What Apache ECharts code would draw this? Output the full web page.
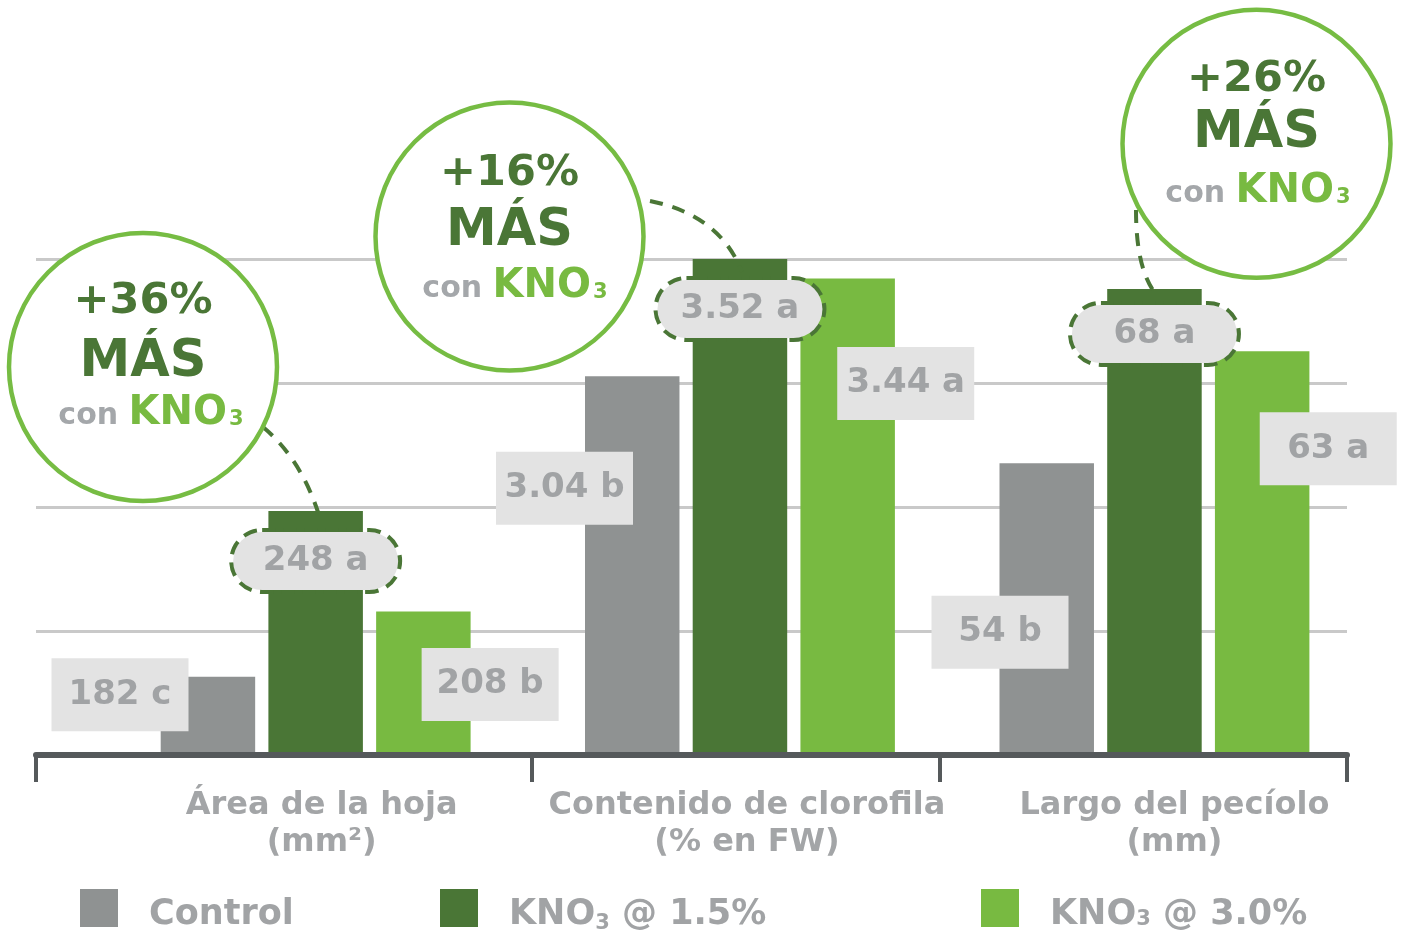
<!DOCTYPE html>
<html><head><meta charset="utf-8">
<script src="https://cdn.jsdelivr.net/npm/echarts@6/dist/echarts.min.js"></script>
<style>html,body{margin:0;padding:0;background:#fff}#c{width:1403px;height:938px}</style>
</head><body><div id="c"></div>
<script>
// ---- data ----
const categories = ['Área de la hoja\n(mm²)', 'Contenido de clorofila\n(% en FW)', 'Largo del pecíolo\n(mm)'];
const seriesNames = ['Control', 'KNO3 @ 1.5%', 'KNO3 @ 3.0%'];
const controlValues = [182, 3.04, 54];
const kno15Values = [248, 3.52, 68];
const kno30Values = [208, 3.44, 63];
const controlLetters = ['c', 'b', 'b'];
const kno15Letters = ['a', 'a', 'a'];
const kno30Letters = ['b', 'a', 'a'];
// per-group value-axis ranges (each group has its own unit)
const axisMin = [152, 1.5, 30.8];
const axisMax = [348.4, 3.52, 70.4];

// ---- layout / style ----
const FONT = 'DejaVu Sans';
const colors = ['#8f9292', '#4a7636', '#78ba41'];
const labelGray = '#a1a3a5';
const frameLeft = [36, 532, 940], frameWidth = [496, 408, 407];
const barGridLeft = [160.7, 585, 999.5];
const catShift = [6, 7, 20];
const labelOffsets = [
  [[-40.7, 18], [-20.5, 112], [0.5, 169]],
  [[47.25, 50], [47.25, 50], [47.25, 45]],
  [[114, 73], [105.3, 105], [113.3, 97.6]]
];
const circles = [
  {cx: 143, cy: 367, t1: 302, t2: 363, t3: 414, x3: 151},
  {cx: 509.5, cy: 236.5, t1: 174, t2: 232, t3: 287, x3: 515},
  {cx: 1256.5, cy: 143.8, t1: 80, t2: 134, t3: 192, x3: 1258}
];
const connectors = [
  {x1: 263, y1: 427, cpx1: 300, cpy1: 458, x2: 318, y2: 512},
  {x1: 650, y1: 201, cpx1: 720, cpy1: 215, x2: 742, y2: 272},
  {x1: 1136, y1: 210, cpx1: 1136, cpy1: 268, x2: 1155, y2: 293}
];

const values = [controlValues, kno15Values, kno30Values];
const letters = [controlLetters, kno15Letters, kno30Letters];

const grid = [], xAxis = [], yAxis = [], series = [];
for (let i = 0; i < 3; i++) {
  grid.push({left: frameLeft[i], width: frameWidth[i], top: 259, height: 496});
  xAxis.push({gridIndex: i, type: 'category', data: [''], boundaryGap: true, z: 5,
    axisLine: {lineStyle: {color: '#55595b', width: 6}},
    axisTick: {show: true, length: 27, lineStyle: {color: '#55595b', width: 4}},
    axisLabel: {show: false}});
  yAxis.push({gridIndex: i, type: 'value', min: 0, max: 4, interval: 1,
    axisLine: {show: false}, axisTick: {show: false}, axisLabel: {show: false},
    splitLine: {lineStyle: {color: '#c9c9c9', width: 3}}});
}
for (let g = 0; g < 3; g++) {
  const gi = 3 + g;
  grid.push({left: barGridLeft[g], width: 309.9, top: 259, height: 493});
  xAxis.push({gridIndex: gi, type: 'category', data: [categories[g]],
    axisLine: {show: false}, axisTick: {show: false},
    axisLabel: {margin: 35, fontSize: 32, fontWeight: 'bold', fontFamily: FONT,
      color: '#a3a5a7', lineHeight: 37, padding: [0, 0, 0, catShift[g] * 2]}});
  yAxis.push({gridIndex: gi, type: 'value', min: axisMin[g], max: axisMax[g], show: false});
  for (let t = 0; t < 3; t++) {
    const dashed = t === 1;
    const lbl = {show: true, align: 'center', verticalAlign: 'middle',
      formatter: values[t][g] + ' ' + letters[t][g],
      color: labelGray, fontFamily: FONT, fontWeight: 'bold', fontSize: 34,
      backgroundColor: '#e3e3e3'};
    if (dashed) {
      Object.assign(lbl, {width: 165, height: 58, lineHeight: 58, borderRadius: 29,
        borderColor: '#4a7636', borderWidth: 4, borderType: [13, 8]});
    } else {
      Object.assign(lbl, {width: 137, height: 73, lineHeight: 73});
    }
    series.push({type: 'bar', name: seriesNames[t], xAxisIndex: gi, yAxisIndex: gi,
      barWidth: 94.5, barGap: '14%', itemStyle: {color: colors[t]},
      label: lbl, labelLayout: {hideOverlap: false},
      data: [{value: values[t][g], label: {position: labelOffsets[t][g]}}]});
  }
}

const legTxt = {color: labelGray, fontFamily: FONT, fontWeight: 'bold', fontSize: 35,
  lineHeight: 38, padding: [14, 0, 0, 26],
  rich: {
    sub: {color: labelGray, fontFamily: FONT, fontWeight: 'bold', fontSize: 21, lineHeight: 21,
      padding: [18, 0, 0, 0], verticalAlign: 'middle'},
    sm: {color: labelGray, fontFamily: FONT, fontWeight: 'bold', fontSize: 21, lineHeight: 21,
      padding: [9, 0, 0, 0], verticalAlign: 'middle'}
  }};
const legendLefts = [80, 440, 981];
const legendFmt = [n => n, n => n.replace('KNO3', 'KNO{sub|3}'), n => n.replace('KNO3', 'KNO{sm|3}')];
const legend = seriesNames.map((n, i) => ({data: [n], left: legendLefts[i], top: 882, padding: 0,
  icon: 'rect', itemWidth: 38, itemHeight: 38, selectedMode: false,
  formatter: legendFmt[i], textStyle: legTxt}));

const graphic = [];
connectors.forEach(c => graphic.push({type: 'bezierCurve', z: 20, silent: true,
  shape: c, style: {stroke: '#4a7636', lineWidth: 4, lineDash: [13, 10], fill: null}}));
circles.forEach((c, g) => {
  const pct = Math.round((kno15Values[g] - controlValues[g]) / controlValues[g] * 100);
  graphic.push({type: 'circle', z: 30, silent: true, shape: {cx: c.cx, cy: c.cy, r: 134},
    style: {fill: '#ffffff', stroke: '#76bc43', lineWidth: 4.5}});
  graphic.push({type: 'text', z: 31, silent: true, x: c.cx, y: c.t1,
    style: {text: '+' + pct + '%', fill: '#4a7636', fontFamily: FONT, fontWeight: 'bold',
      fontSize: 43, align: 'center', verticalAlign: 'middle'}});
  graphic.push({type: 'text', z: 31, silent: true, x: c.cx, y: c.t2,
    style: {text: 'MÁS', fill: '#4a7636', fontFamily: FONT, fontWeight: 'bold',
      fontSize: 51, align: 'center', verticalAlign: 'middle'}});
  graphic.push({type: 'text', z: 31, silent: true, x: c.x3, y: c.t3,
    style: {text: '{c|con }{k|KNO}{s|3}', align: 'center', verticalAlign: 'middle',
      fontFamily: FONT, fontWeight: 'bold',
      rich: {
        c: {fill: '#a4a7aa', fontFamily: FONT, fontWeight: 'bold', fontSize: 30, lineHeight: 42, verticalAlign: 'middle', padding: [4, 0, 0, 0]},
        k: {fill: '#78ba41', fontFamily: FONT, fontWeight: 'bold', fontSize: 40, lineHeight: 42, verticalAlign: 'middle'},
        s: {fill: '#78ba41', fontFamily: FONT, fontWeight: 'bold', fontSize: 21, lineHeight: 21, verticalAlign: 'middle', padding: [12, 0, 0, 2]}
      }}});
});

const chart = echarts.init(document.getElementById('c'), null, {renderer: 'canvas'});
chart.setOption({animation: false, backgroundColor: '#ffffff', grid, xAxis, yAxis, series, legend, graphic});
</script></body></html>
